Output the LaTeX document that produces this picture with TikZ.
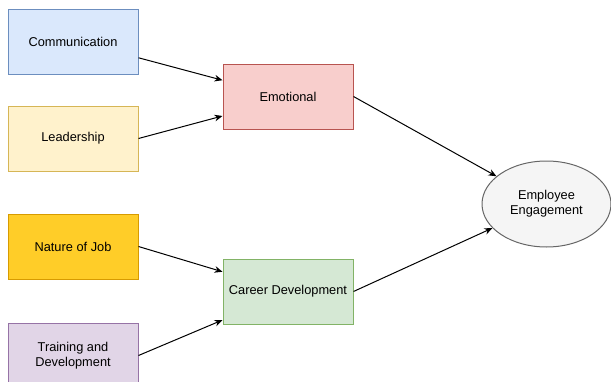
\documentclass[tikz,border=0pt]{standalone}
\usepackage{fontspec}
\setmainfont{Liberation Sans}
\usetikzlibrary{arrows.meta,shapes.geometric}

\definecolor{blueF}{HTML}{DAE8FC}\definecolor{blueD}{HTML}{6C8EBF}
\definecolor{yellowF}{HTML}{FFF2CC}\definecolor{yellowD}{HTML}{D6B656}
\definecolor{orangeF}{HTML}{FFCD28}\definecolor{orangeD}{HTML}{D79B00}
\definecolor{purpleF}{HTML}{E1D5E7}\definecolor{purpleD}{HTML}{9673A6}
\definecolor{redF}{HTML}{F8CECC}\definecolor{redD}{HTML}{B85450}
\definecolor{greenF}{HTML}{D5E8D4}\definecolor{greenD}{HTML}{82B366}
\definecolor{greyF}{HTML}{F5F5F5}\definecolor{greyD}{HTML}{666666}

\tikzset{
  factor/.style={draw=#1D,fill=#1F,line width=0.75pt,minimum width=97.5pt,
    minimum height=48.75pt,align=center,font=\fontsize{9.6}{11.4}\selectfont},
  link/.style={line width=0.75pt,-{Stealth[length=6pt,width=5pt]}}
}

\begin{document}
\begin{tikzpicture}[x=0.75pt,y=-0.75pt]
  \useasboundingbox (0,0) rectangle (611,382);
  \clip (0,0) rectangle (611,382);

  \node[factor=blue]   (comm)   at (73,41.5)   {Communication};
  \node[factor=yellow] (lead)   at (73,138.5)  {Leadership};
  \node[factor=orange] (nature) at (73,246.5)  {Nature of Job};
  \node[factor=purple] (train)  at (73,355.5)  {Training and\\Development};

  \node[factor=red]    (emo)    at (288,96.5)  {Emotional};
  \node[factor=green]  (career) at (288,291.5) {Career Development};

  \node[ellipse,draw=greyD,fill=greyF,line width=0.75pt,minimum width=96.75pt,
    minimum height=64.5pt,inner sep=0pt,align=center,
    font=\fontsize{9.6}{11.4}\selectfont] (engage) at (546.5,204) {Employee\\Engagement};

  \draw[link] ([yshift=-12.2pt]comm.east) -- ([yshift=12.2pt]emo.west);
  \draw[link] (lead.east) -- ([yshift=-14.6pt]emo.west);
  \draw[link] (nature.east) -- ([yshift=14.8pt]career.west);
  \draw[link] (train.east) -- ([yshift=-21.4pt]career.west);

  \draw[link] (emo.east) -- (engage.151);
  \draw[link] (career.east) -- (engage.204);

\end{tikzpicture}
\end{document}
